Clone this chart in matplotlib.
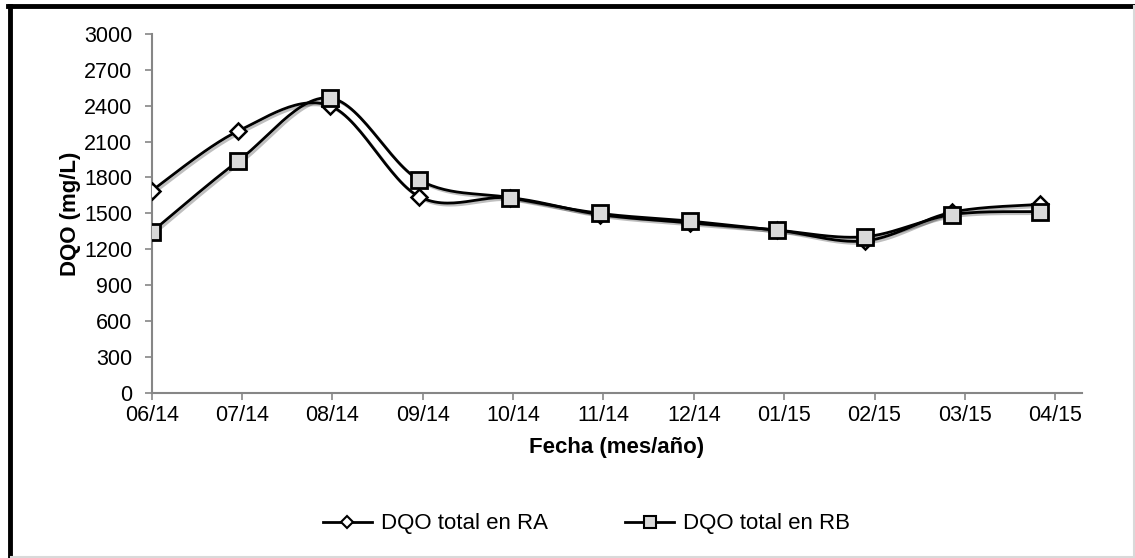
import numpy as np
import matplotlib
matplotlib.use("Agg")
import matplotlib.pyplot as plt
from matplotlib.lines import Line2D
import matplotlib.patheffects as pe

plt.rcParams['font.family'] = ['Liberation Sans', 'DejaVu Sans']

# month labels on the x axis (one tick per month)
month_labels = ["06/14", "07/14", "08/14", "09/14", "10/14", "11/14",
                "12/14", "01/15", "02/15", "03/15", "04/15"]

# sampling positions, in months after 06/14
x_pos = [0, 0.96, 1.97, 2.96, 3.97, 4.96, 5.96, 6.92, 7.90, 8.86, 9.83]

dqo_ra = [1690, 2190, 2400, 1640, 1630, 1490, 1420, 1360, 1270, 1510, 1575]
dqo_rb = [1345, 1940, 2465, 1780, 1630, 1500, 1435, 1360, 1305, 1490, 1515]


def smooth(x, y, n=30):
    # excel-like smoothed line (catmull-rom as cubic bezier)
    x = np.asarray(x, float)
    y = np.asarray(y, float)
    px = np.concatenate([[x[0]], x, [x[-1]]])
    py = np.concatenate([[y[0]], y, [y[-1]]])
    xs, ys = [], []
    t = np.linspace(0, 1, n)
    for i in range(1, len(px) - 2):
        p0 = np.array([px[i], py[i]])
        p3 = np.array([px[i + 1], py[i + 1]])
        c1 = p0 + (np.array([px[i + 1], py[i + 1]]) - np.array([px[i - 1], py[i - 1]])) / 6
        c2 = p3 - (np.array([px[i + 2], py[i + 2]]) - np.array([px[i], py[i]])) / 6
        b = ((1 - t) ** 3)[:, None] * p0 + (3 * (1 - t) ** 2 * t)[:, None] * c1 \
            + (3 * (1 - t) * t ** 2)[:, None] * c2 + (t ** 3)[:, None] * p3
        xs.extend(b[:, 0])
        ys.extend(b[:, 1])
    return xs, ys


fig = plt.figure(figsize=(11.35, 5.58), dpi=100)
ax = fig.add_axes([0.1337, 0.2962, 0.8194, 0.6429])

shadow = [pe.SimpleLineShadow(offset=(1.5, -1.5), alpha=0.25, shadow_color='black'), pe.Normal()]

sx, sy = smooth(x_pos, dqo_ra)
ax.plot(sx, sy, color='black', lw=2, path_effects=shadow, zorder=3)
sx, sy = smooth(x_pos, dqo_rb)
ax.plot(sx, sy, color='black', lw=2, path_effects=shadow, zorder=3)

ax.plot(x_pos, dqo_ra, ls='none', marker='D', ms=8, mfc='white', mec='black', mew=1.8, zorder=4)
ax.plot(x_pos, dqo_rb, ls='none', marker='s', ms=12, mfc='#d9d9d9', mec='black', mew=2, zorder=5)

ax.set_ylim(0, 3000)
ax.set_xlim(0, 10.294)
ax.set_yticks(np.arange(0, 3001, 300))
ax.set_xticks(np.arange(len(month_labels)))
ax.set_xticklabels(month_labels)

for s in ['top', 'right']:
    ax.spines[s].set_visible(False)
for s in ['left', 'bottom']:
    ax.spines[s].set_color('#868686')
    ax.spines[s].set_linewidth(1.5)

ax.tick_params(axis='y', direction='out', length=5, width=1.2, color='#868686', labelsize=15.5, pad=9)
ax.tick_params(axis='x', direction='out', length=5, width=1.2, color='#868686', labelsize=15.5, pad=4)

ax.set_ylabel("DQO (mg/L)", fontsize=16, fontweight='bold', labelpad=2)
ax.set_xlabel("Fecha (mes/año)", fontsize=16, fontweight='bold', labelpad=8)

h1 = Line2D([], [], color='black', lw=2, marker='D', ms=6, mfc='white', mec='black', mew=1.5)
h2 = Line2D([], [], color='black', lw=2, marker='s', ms=8, mfc='#d9d9d9', mec='black', mew=1.5)
fig.legend([h1, h2], ["DQO total en RA", "DQO total en RB"], loc='center',
           bbox_to_anchor=(0.5167, 0.061), ncol=2, frameon=False, fontsize=16,
           handlelength=2.2, columnspacing=3.5, handletextpad=0.4)

# chart border: thick black on left/top, light grey on right/bottom
fig.add_artist(Line2D([0.0088, 0.0088], [0.0, 0.9895], color='black', lw=3.5, transform=fig.transFigure))
fig.add_artist(Line2D([0.0072, 1.0], [0.9895, 0.9895], color='black', lw=3.5, transform=fig.transFigure))
fig.add_artist(Line2D([0.01, 1.0], [0.002, 0.002], color='#d9d9d9', lw=1.5, transform=fig.transFigure))
fig.add_artist(Line2D([0.999, 0.999], [0.0, 0.99], color='#d9d9d9', lw=1.5, transform=fig.transFigure))

plt.savefig("out.png", dpi=100)
